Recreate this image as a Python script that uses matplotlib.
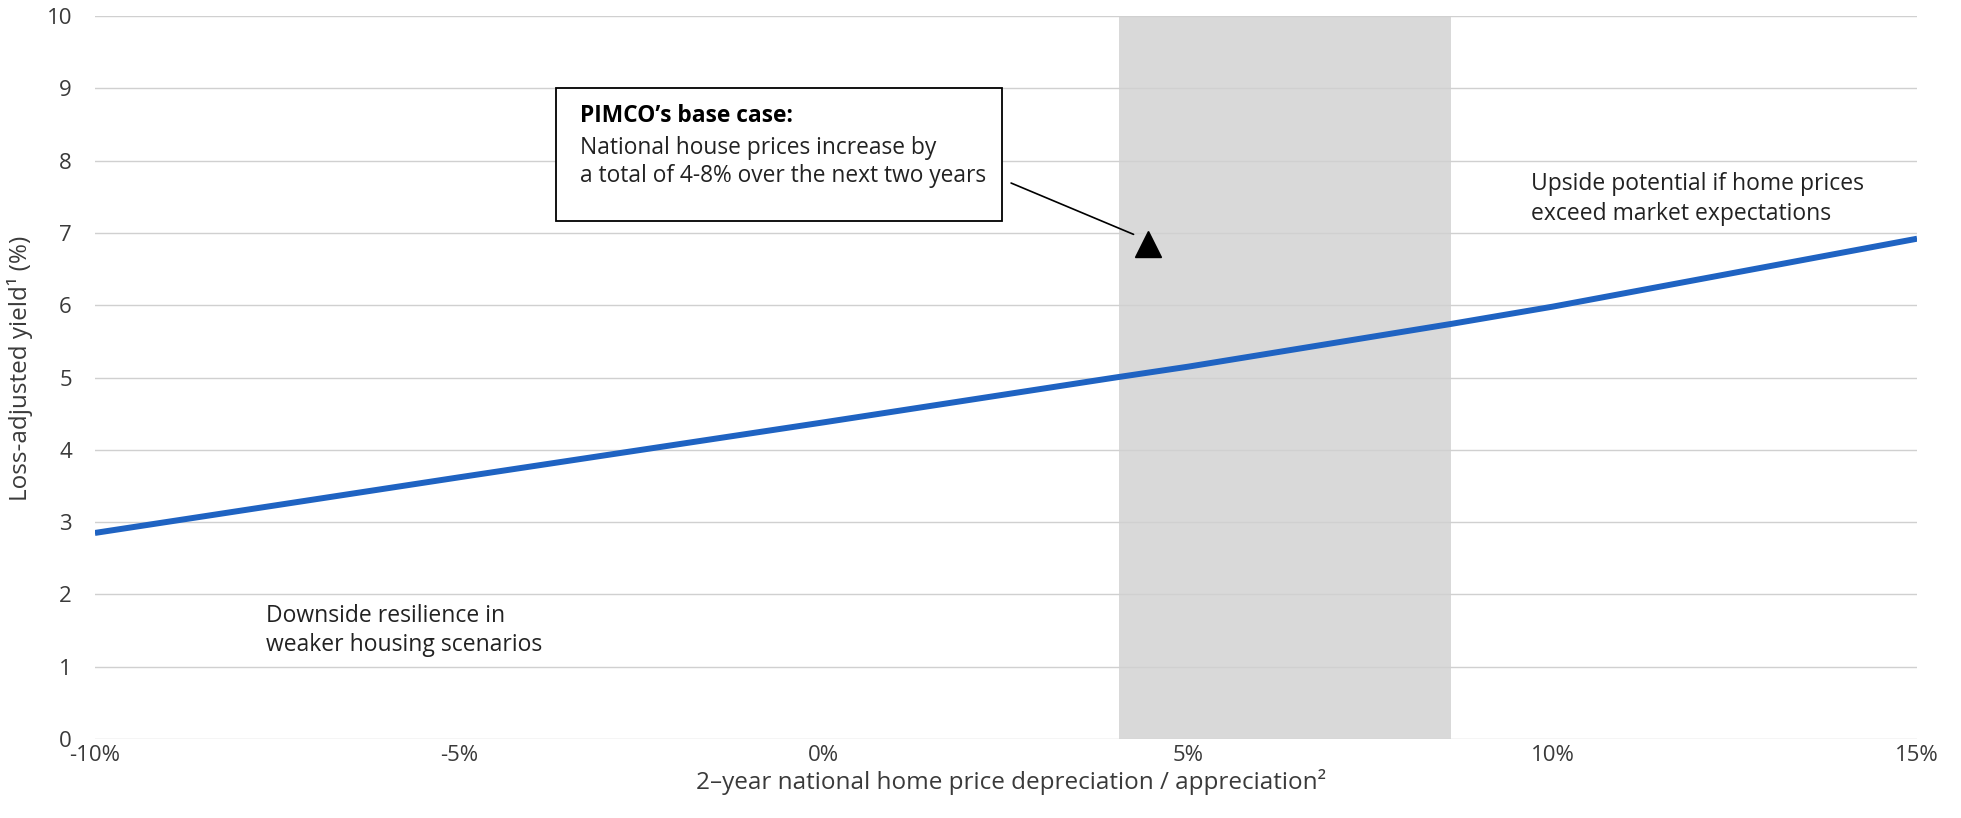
import matplotlib
matplotlib.use("Agg")
import matplotlib.pyplot as plt

plt.rcParams["font.family"] = ["Open Sans", "DejaVu Sans"]

# ── data ──
hpa_pct     = [-10, -5, 0, 4, 5, 8.6, 10, 15]
yield_pct   = [2.85, 3.62, 4.38, 5.0, 5.15, 5.74, 5.98, 6.92]
base_lo, base_hi = 4.05, 8.6
x_ticks     = [-10, -5, 0, 5, 10, 15]
x_ticklabs  = ["-10%", "-5%", "0%", "5%", "10%", "15%"]
y_ticks     = list(range(0, 11))

# annotation anchors (data coords)
ARROW_FROM = (2.57, 7.69)
ARROW_TO   = (4.25, 6.98)
HEAD_AT    = (4.45, 6.84)

LINE_BLUE = "#1f63c2"
GRID      = "#d0d0d0"
SHADE     = "#d9d9d9"
TXT       = "#3a3a3a"

fig = plt.figure(figsize=(19.61, 8.18), dpi=100)
ax = fig.add_axes([0.0484, 0.0966, 0.9292, 0.8838])

ax.axvspan(base_lo, base_hi, color=SHADE, lw=0, zorder=0)
ax.plot(hpa_pct, yield_pct, color=LINE_BLUE, lw=4.3, zorder=3,
        solid_capstyle="butt")

ax.set_xlim(-10, 15)
ax.set_ylim(0, 10)
ax.set_xticks(x_ticks)
ax.set_xticklabels(x_ticklabs)
ax.set_yticks(y_ticks)
ax.yaxis.grid(True, color=GRID, lw=1.0, zorder=1)
ax.set_axisbelow(True)
for s in ax.spines.values():
    s.set_visible(False)
ax.tick_params(length=0, labelsize=16, colors=TXT)
ax.tick_params(axis="y", pad=16.5)
ax.tick_params(axis="x", pad=4)

ax.set_xlabel("2\u2013year national home price depreciation / appreciation\u00b2",
              fontsize=17.5, color=TXT, labelpad=0)
ax.xaxis.set_label_coords(0.503, -0.041)
ax.set_ylabel("Loss-adjusted yield\u00b9 (%)", fontsize=17.5, color=TXT)
ax.yaxis.set_label_coords(-0.034, 0.512)

# annotation box
ax.text(-3.35, 8.62, "PIMCO\u2019s base case:", fontsize=16.4,
        fontweight="bold", color="black", va="center", zorder=6)
ax.text(-3.35, 7.98, "National house prices increase by\n"
        "a total of 4-8% over the next two years", fontsize=16.4,
        color="#222222", va="center", linespacing=1.22, zorder=6)
box = plt.Rectangle((-3.67, 7.16), 6.11, 1.84, facecolor="white",
                    edgecolor="black", lw=1.3, zorder=5)
ax.add_patch(box)
ax.annotate("", xy=ARROW_TO, xytext=ARROW_FROM,
            arrowprops=dict(arrowstyle="-", color="black", lw=1.2,
                            shrinkA=0, shrinkB=0), zorder=6)
ax.plot([HEAD_AT[0]], [HEAD_AT[1]], marker="^", ms=19, color="black",
        zorder=6)

ax.text(9.7, 7.47, "Upside potential if home prices\nexceed market expectations",
        fontsize=16.5, color="#222222", va="center", linespacing=1.3)
ax.text(-7.65, 1.5, "Downside resilience in\nweaker housing scenarios",
        fontsize=16.5, color="#222222", va="center", linespacing=1.3)

fig.savefig("out.png", dpi=100)
